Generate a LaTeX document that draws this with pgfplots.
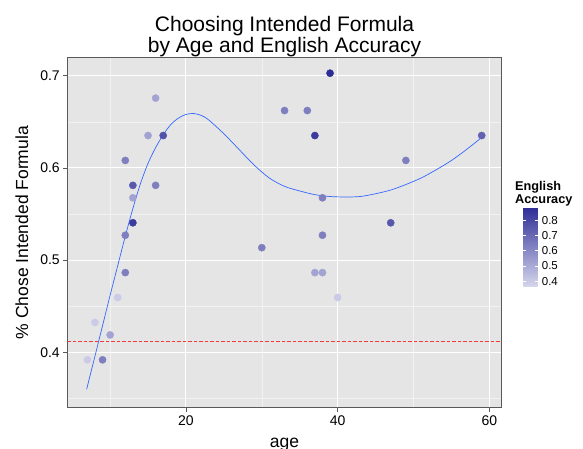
\documentclass[border=0pt]{standalone}
\usepackage{pgfplots}
\pgfplotsset{compat=1.18}
\usepackage{fontspec}
\setmainfont{Liberation Sans}

\definecolor{panelbg}{HTML}{E5E5E5}
\definecolor{minorgrid}{HTML}{F2F2F2}
\definecolor{axgray}{HTML}{595959}
\definecolor{smoothblue}{HTML}{3366FF}
\definecolor{refred}{HTML}{F23A3A}

% age, proportion, english accuracy
\pgfplotstableread{
x      y       c
7      0.3919  0.40
8      0.4324  0.40
9      0.3919  0.63
10     0.4189  0.52
11     0.4595  0.40
12     0.4865  0.63
12     0.5270  0.63
12     0.6081  0.63
13     0.5405  0.84
13     0.5676  0.52
13     0.5811  0.75
15     0.6351  0.52
16     0.5811  0.63
16     0.6757  0.52
17     0.6351  0.77
30     0.5135  0.63
33     0.6622  0.63
36     0.6622  0.63
37     0.4865  0.52
37     0.6351  0.84
38     0.4865  0.52
38     0.5270  0.63
38     0.5676  0.63
39     0.7027  0.88
40     0.4595  0.40
47     0.5405  0.75
49     0.6081  0.63
59     0.6351  0.72
}\points

\begin{document}
\begin{tikzpicture}
\useasboundingbox (-67.3pt,-40.4pt) rectangle (515.7pt,407.7pt);
\begin{axis}[
scale only axis,
width=434.5pt, height=350pt,
xmin=4.35, xmax=61.65,
ymin=0.340, ymax=0.7195,
xtick={20,40,60},
ytick={0.4,0.5,0.6,0.7},
minor xtick={10,30,50},
minor ytick={0.35,0.45,0.55,0.65},
yticklabel style={/pgf/number format/fixed, /pgf/number format/precision=1},
/pgf/number format/assume math mode=true,
ticklabel style={font=\fontsize{14}{16}\selectfont},
xtick pos=lower, ytick pos=left,
tick align=outside,
major tick length=4pt, minor tick length=0pt,
tick style={draw=axgray, line width=0.6pt},
grid=both,
major grid style={draw=white, line width=1.0pt},
minor grid style={draw=minorgrid, line width=0.5pt},
axis background/.style={fill=panelbg},
axis line style={draw=axgray, line width=0.7pt},
xlabel={age},
ylabel={\% Chose Intended Formula},
label style={font=\fontsize{17.5}{20}\selectfont},
xlabel style={at={(axis description cs:0.5,-0.1145)}, anchor=base},
ylabel style={at={(axis description cs:-0.1043,0.5)}, anchor=center, rotate=0},
colormap={lav}{rgb255=(214,214,237) rgb255=(45,45,150)},
point meta min=0.365, point meta max=0.885,
colorbar,
colorbar style={
  at={(parent axis.north east)}, anchor=north west,
  xshift=13pt, yshift=-149.4pt,
  width=15pt, height=79.6pt,
  ytick={0.4,0.5,0.6,0.7,0.8},
  /pgf/number format/assume math mode=true,
  yticklabel style={font=\fontsize{11.5}{13}\selectfont,
    /pgf/number format/fixed, /pgf/number format/precision=1,
    /pgf/number format/assume math mode=true},
  axis line style={draw=none},
  major tick length=3pt,
  tick style={draw=white, line width=0.6pt},
  grid=none,
},
]
\addplot[draw=smoothblue, line width=0.7pt, smooth, no marks] coordinates {
(6.9,0.360) (8,0.396) (9,0.429) (10,0.462) (11,0.494) (12,0.526)
(13,0.556) (14,0.583) (15,0.605) (16,0.622) (17,0.636) (18,0.647)
(19,0.654) (20,0.658) (21,0.659) (22,0.657) (23,0.652) (25,0.637)
(27,0.620) (29,0.603) (31,0.589) (33,0.580) (35,0.575) (37,0.571)
(39,0.569) (41,0.5685) (43,0.569) (45,0.572) (47,0.576) (49,0.582)
(51,0.589) (53,0.598) (55,0.608) (57,0.620) (59,0.633)
};
\addplot[scatter, only marks, mark=*, mark size=3.6pt,
  scatter/use mapped color={draw=mapped color, fill=mapped color},
  point meta=explicit] table[x=x, y=y, meta=c] {\points};
\end{axis}
% overlay axis for the dashed reference line (same frame, nothing else drawn)
\begin{axis}[
scale only axis,
width=434.5pt, height=350pt,
xmin=4.35, xmax=61.65,
ymin=0.340, ymax=0.7195,
axis lines=none, ticks=none,
]
\addplot[color=refred, line width=0.7pt, dash pattern=on 3.5pt off 2pt, mark=none] coordinates {
(4.35,0.4115) (61.65,0.4115)
};
\end{axis}
\node[anchor=base, font=\fontsize{21}{24}\selectfont] at (217.25pt,376pt) {Choosing Intended Formula};
\node[anchor=base, font=\fontsize{21}{24}\selectfont] at (217.25pt,355pt) {by Age and English Accuracy};
\node[anchor=base west, font=\bfseries\fontsize{12.7}{14}\selectfont, inner sep=0pt] at (447.7pt,217.6pt) {English};
\node[anchor=base west, font=\bfseries\fontsize{12.7}{14}\selectfont, inner sep=0pt] at (447.7pt,204.3pt) {Accuracy};
\end{tikzpicture}
\end{document}
